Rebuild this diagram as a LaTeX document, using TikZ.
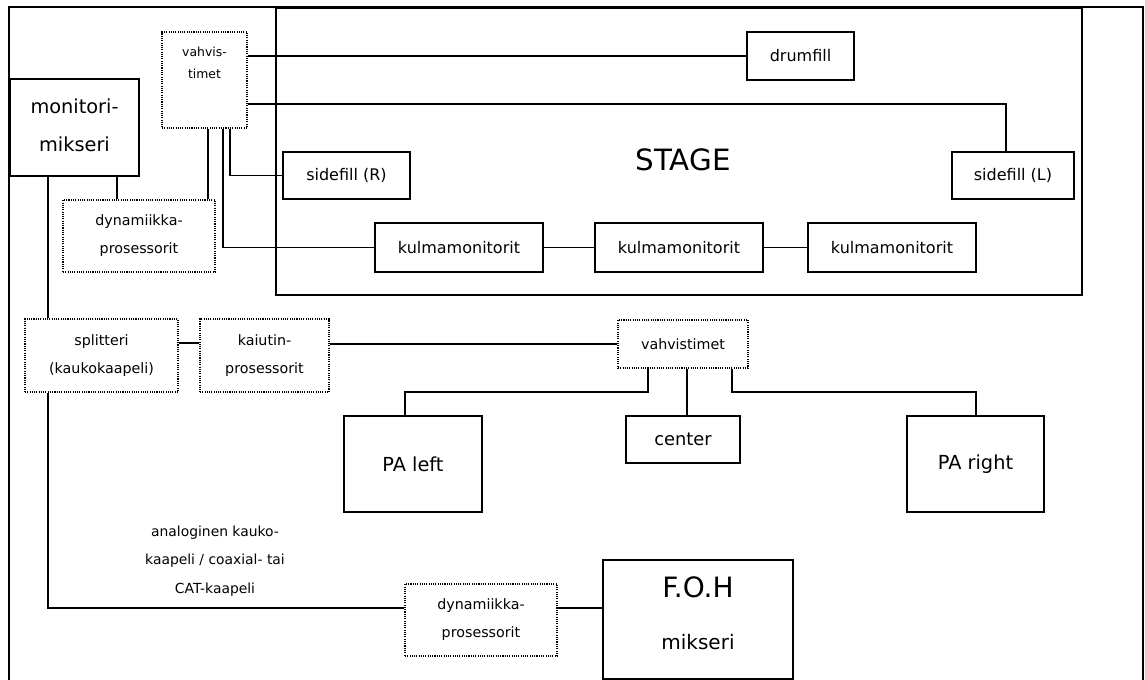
\documentclass[tikz,border=0pt]{standalone}
\usepackage{fontspec}
\setmainfont{DejaVu Sans}
\usetikzlibrary{calc}
\tikzset{
  sz/.style 2 args={minimum width=#1*0.75pt, minimum height=#2*0.75pt},
  unit/.style={draw, line width=1.5pt, inner sep=0pt, align=center},
  proc/.style={draw, line width=0.8pt, dash pattern=on 0.8pt off 0.9pt, inner sep=0pt, align=center},
  wire/.style={line width=1.1pt},
  frame/.style={line width=1.5pt},
  fsmall/.style={font=\fontsize{10.7}{21}\selectfont},
  fmid/.style={font=\fontsize{12}{14}\selectfont},
  fbig/.style={font=\fontsize{14.5}{28.5}\selectfont},
}
\begin{document}
\begin{tikzpicture}[x=0.75pt, y=-0.75pt]
\useasboundingbox (0,0) rectangle (1145,680);

% outer frame and stage area
\draw[frame] (9,680) -- (9,7) -- (1143,7) -- (1143,680);
\draw[frame] (276,8) rectangle (1082,295);
\node[font=\fontsize{22}{24}\selectfont] (stage) at (683,160) {STAGE};

% monitor side
\node[unit, sz={129}{97}] (mon) at (74.5,127.5) {};
\node[fbig, align=center] (montxt) at (74.5,125) {monitori-\\mikseri};
\node[proc, sz={85}{96}] (vtop) at (204.5,80) {};
\node[font=\fontsize{9.3}{17}\selectfont, align=center, anchor=north] (vtoptxt) at (204.5,42) {vahvis-\\timet};
\node[proc, sz={152}{72}, fsmall] (dyn1) at (139,236) {dynamiikka-\\prosessorit};

% stage monitors
\node[unit, sz={107}{48}, fmid] (drum) at (800.5,56) {drumfill};
\node[unit, sz={127}{47}, fmid] (sideR) at (346.5,175.5) {sidefill (R)};
\node[unit, sz={122}{47}, fmid] (sideL) at (1013,175.5) {sidefill (L)};
\node[unit, sz={168}{49}, fmid] (k1) at (459,247.5) {kulmamonitorit};
\node[unit, sz={168}{49}, fmid] (k2) at (679,247.5) {kulmamonitorit};
\node[unit, sz={168}{49}, fmid] (k3) at (892,247.5) {kulmamonitorit};

% front of house chain
\node[proc, sz={153}{73}, fsmall] (split) at (101.5,355.5) {splitteri\\(kaukokaapeli)};
\node[proc, sz={129}{73}, fsmall] (kproc) at (264.5,355.5) {kaiutin-\\prosessorit};
\node[proc, sz={130}{48}, fsmall] (vbot) at (683,344) {vahvistimet};
\node[unit, sz={138}{96}, fbig] (pal) at (413,464) {PA left};
\node[unit, sz={114}{47}, font=\fontsize{13.4}{16}\selectfont] (ctr) at (683,439.5) {center};
\node[unit, sz={137}{96}, fbig] (par) at (975.5,464) {PA right};
\node[proc, sz={152}{72}, fsmall] (dyn2) at (481,620) {dynamiikka-\\prosessorit};
\node[unit, sz={190}{119}] (foh) at (698,619.5) {};
\node[font=\fontsize{15}{39}\selectfont, align=center] (fohtxt) at (698,613)
  {{\fontsize{21}{24}\selectfont F.O.H}\\mikseri};
\node[font=\fontsize{10.4}{21.5}\selectfont, align=center] (cable) at (215,561) {analoginen kauko-\\kaapeli / coaxial- tai\\CAT-kaapeli};

% wiring from the monitor amplifiers
\draw[wire] (vtop.east |- drum.west) -- (drum.west);
\draw[wire] (vtop.east |- 0,104) -| (1006,0 |- sideL.north);
\draw[wire] (208,0 |- vtop.south) -- (208,0 |- dyn1.north);
\draw[wire] (223,0 |- vtop.south) |- (k1.west);
\draw[wire] (230,0 |- vtop.south) |- (sideR.west);
\draw[wire] (k1.east) -- (k2.west);
\draw[wire] (k2.east) -- (k3.west);
\draw[wire] (117,0 |- mon.south) -- (117,0 |- dyn1.north);
\draw[wire] (48,0 |- mon.south) -- (48,0 |- split.north);

% wiring of the PA chain
\draw[wire] (split.east |- 0,343) -- (kproc.west |- 0,343);
\draw[wire] (kproc.east |- vbot.west) -- (vbot.west);
\draw[wire] (648,0 |- vbot.south) |- (405,392) -- (405,0 |- pal.north);
\draw[wire] (687,0 |- vbot.south) -- (687,0 |- ctr.north);
\draw[wire] (732,0 |- vbot.south) |- (976,392) -- (976,0 |- par.north);
\draw[wire] (48,0 |- split.south) |- (dyn2.west |- 0,608);
\draw[wire] (dyn2.east |- 0,608) -- (foh.west |- 0,608);
\end{tikzpicture}
\end{document}
